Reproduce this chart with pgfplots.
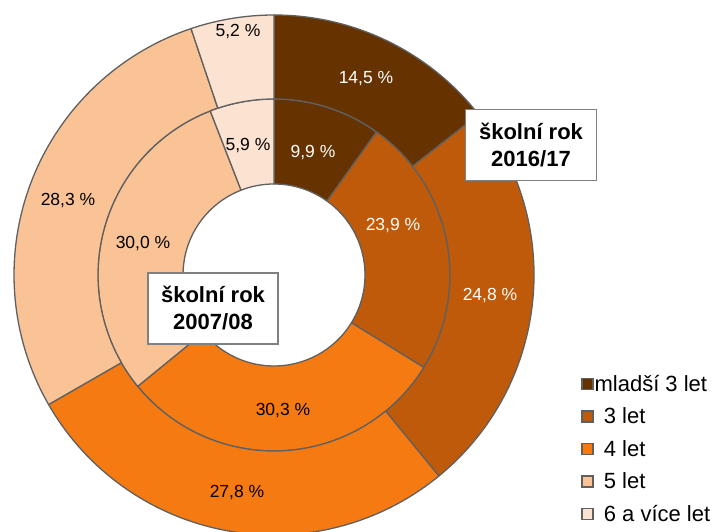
\documentclass[border=0pt]{standalone}
\usepackage{pgfplots}
\pgfplotsset{compat=1.18}
\usepackage{pgfplotstable}
\usepackage{fontspec}
\setmainfont{Liberation Sans}
\definecolor{c1}{RGB}{102,51,0}
\definecolor{c2}{RGB}{191,90,10}
\definecolor{c3}{RGB}{245,122,18}
\definecolor{c4}{RGB}{250,195,150}
\definecolor{c5}{RGB}{252,226,208}
\definecolor{bord}{RGB}{96,96,96}
\pgfplotstableread{
v07 v16 col
9.9 14.5 c1
23.9 24.8 c2
30.3 27.8 c3
30.0 28.3 c4
5.9 5.2 c5
}\data
\newcommand{\lab}{\fontsize{17.5bp}{21bp}\selectfont}
\begin{document}
\begin{tikzpicture}
\begin{axis}[hide axis, x=1bp, y=1bp, xmin=0, xmax=716, ymin=0, ymax=532,
  scale only axis, clip=true,
  legend cell align=left,
  legend style={at={(axis cs:581,158)}, anchor=north west, draw=none, fill=none,
    font=\fontsize{22bp}{26bp}\selectfont, row sep=13bp, inner sep=0pt,
    nodes={inner sep=1bp}},
  legend image code/.code={\draw[#1,line width=1.4bp] (0bp,-5.5bp) rectangle (11bp,5.5bp);}
]
\coordinate (LL) at (axis cs:0,0);
\coordinate (UR) at (axis cs:716,532);
% totals
\def\totA{0}\def\totB{0}
\pgfplotsforeachungrouped \i in {0,...,4}{%
  \pgfplotstablegetelem{\i}{v07}\of\data \let\va\pgfplotsretval
  \pgfplotstablegetelem{\i}{v16}\of\data \let\vb\pgfplotsretval
  \pgfmathsetmacro\totA{\totA+\va}%
  \pgfmathsetmacro\totB{\totB+\vb}%
}
\def\cumA{0}\def\cumB{0}
\pgfplotsforeachungrouped \i in {0,...,4}{%
  \pgfplotstablegetelem{\i}{v07}\of\data \let\va\pgfplotsretval
  \pgfplotstablegetelem{\i}{v16}\of\data \let\vb\pgfplotsretval
  \pgfplotstablegetelem{\i}{col}\of\data \let\cc\pgfplotsretval
  \pgfmathsetmacro\aA{90-3.6*(\cumA/\totA*100)}%
  \pgfmathsetmacro\cumA{\cumA+\va}%
  \pgfmathsetmacro\bA{90-3.6*(\cumA/\totA*100)}%
  \pgfmathsetmacro\aB{90-3.6*(\cumB/\totB*100)}%
  \pgfmathsetmacro\cumB{\cumB+\vb}%
  \pgfmathsetmacro\bB{90-3.6*(\cumB/\totB*100)}%
  \edef\tmp{%
    \noexpand\filldraw[fill=\cc, draw=bord, line width=1.3bp, line join=round]
      (axis cs:274,257) ++(\aA:91bp) arc[start angle=\aA, end angle=\bA, radius=91bp]
      -- ++(\bA:85bp) arc[start angle=\bA, end angle=\aA, radius=176bp] -- cycle;
    \noexpand\filldraw[fill=\cc, draw=bord, line width=1.3bp, line join=round]
      (axis cs:274,257) ++(\aB:176bp) arc[start angle=\aB, end angle=\bB, radius=176bp]
      -- ++(\bB:84bp) arc[start angle=\bB, end angle=\aB, radius=260bp] -- cycle;
  }\tmp
}
% data labels
\node[font=\lab, text=white] at (axis cs:366,453) {14,5 \%};
\node[font=\lab] at (axis cs:238,500) {5,2 \%};
\node[font=\lab, text=white] at (axis cs:313,379) {9,9 \%};
\node[font=\lab] at (axis cs:248,386) {5,9 \%};
\node[font=\lab, text=white] at (axis cs:393,306) {23,9 \%};
\node[font=\lab, text=white] at (axis cs:490,236) {24,8 \%};
\node[font=\lab] at (axis cs:68,331) {28,3 \%};
\node[font=\lab] at (axis cs:143,288) {30,0 \%};
\node[font=\lab] at (axis cs:283,121) {30,3 \%};
\node[font=\lab] at (axis cs:237,39) {27,8 \%};
% year boxes
\node[draw=black!50, line width=1.2bp, fill=white, align=center, inner sep=0pt,
  minimum width=131bp, minimum height=71bp,
  font=\fontsize{22bp}{27bp}\selectfont\bfseries] at (axis cs:531,387) {školní rok\\2016/17};
\node[draw=black!50, line width=1.2bp, fill=white, align=center, inner sep=0pt,
  minimum width=130bp, minimum height=71bp,
  font=\fontsize{22bp}{27bp}\selectfont\bfseries] at (axis cs:213,223.5) {školní rok\\2007/08};
% legend
\addlegendimage{fill=c1, draw=bord}
\addlegendentry{mladší 3 let}
\addlegendimage{fill=c2, draw=bord}
\addlegendentry{\hspace{0.42em}3 let}
\addlegendimage{fill=c3, draw=bord}
\addlegendentry{\hspace{0.42em}4 let}
\addlegendimage{fill=c4, draw=bord}
\addlegendentry{\hspace{0.42em}5 let}
\addlegendimage{fill=c5, draw=bord}
\addlegendentry{\hspace{0.42em}6 a více let}
\end{axis}
\pgfresetboundingbox
\useasboundingbox (LL) rectangle (UR);
\end{tikzpicture}
\end{document}
